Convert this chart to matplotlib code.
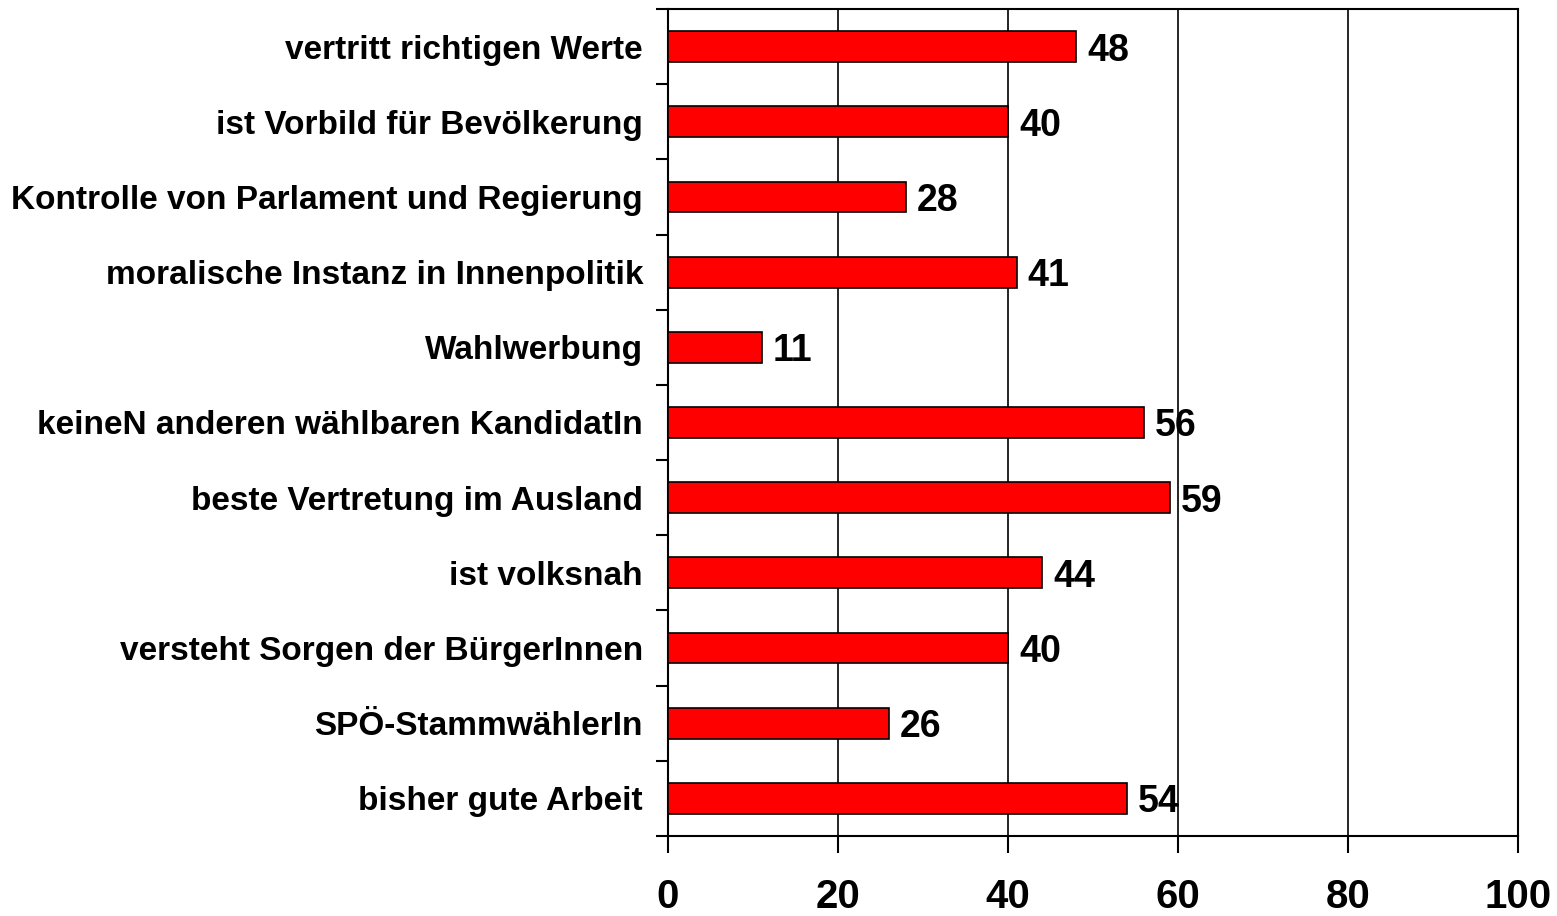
import matplotlib
matplotlib.use("Agg")
import matplotlib.pyplot as plt
import numpy as np

categories = [
    "vertritt richtigen Werte",
    "ist Vorbild für Bevölkerung",
    "Kontrolle von Parlament und Regierung",
    "moralische Instanz in Innenpolitik",
    "Wahlwerbung",
    "keineN anderen wählbaren KandidatIn",
    "beste Vertretung im Ausland",
    "ist volksnah",
    "versteht Sorgen der BürgerInnen",
    "SPÖ-StammwählerIn",
    "bisher gute Arbeit",
]
values = [48, 40, 28, 41, 11, 56, 59, 44, 40, 26, 54]
xticks = [0, 20, 40, 60, 80, 100]

plt.rcParams['font.family'] = ['Liberation Sans', 'DejaVu Sans']

fig = plt.figure(figsize=(15.57, 9.16), dpi=100)
ax = fig.add_axes([668/1557, 1-836/916, 850/1557, 827/916])

y = np.arange(len(categories))
ax.barh(y, values, height=0.41, color='#ff0000', edgecolor='black', linewidth=1.2, zorder=3)
for yi, v in zip(y, values):
    ax.text(v + 1.3, yi, str(v), va='center_baseline', ha='left', fontsize=27, fontweight='bold', zorder=4)

ax.set_xlim(0, 100)
ax.set_ylim(len(categories) - 0.5, -0.5)
ax.set_xticks(xticks)
ax.set_xticklabels([str(t) for t in xticks], fontsize=29, fontweight='bold')
ax.tick_params(axis='x', length=12, width=1.5, pad=18, direction='out')
ax.set_yticks(y)
ax.set_yticklabels(categories, fontsize=24, fontweight='bold')
ax.tick_params(axis='y', which='major', length=0, pad=18)
ax.set_yticks(np.arange(-0.5, len(categories), 1), minor=True)
ax.tick_params(axis='y', which='minor', length=9, width=1.5, direction='out')
ax.xaxis.grid(True, color='black', linewidth=1.2, zorder=0)
for s in ax.spines.values():
    s.set_linewidth(1.5)
    s.set_color('black')

fig.savefig("out.png", dpi=100)
